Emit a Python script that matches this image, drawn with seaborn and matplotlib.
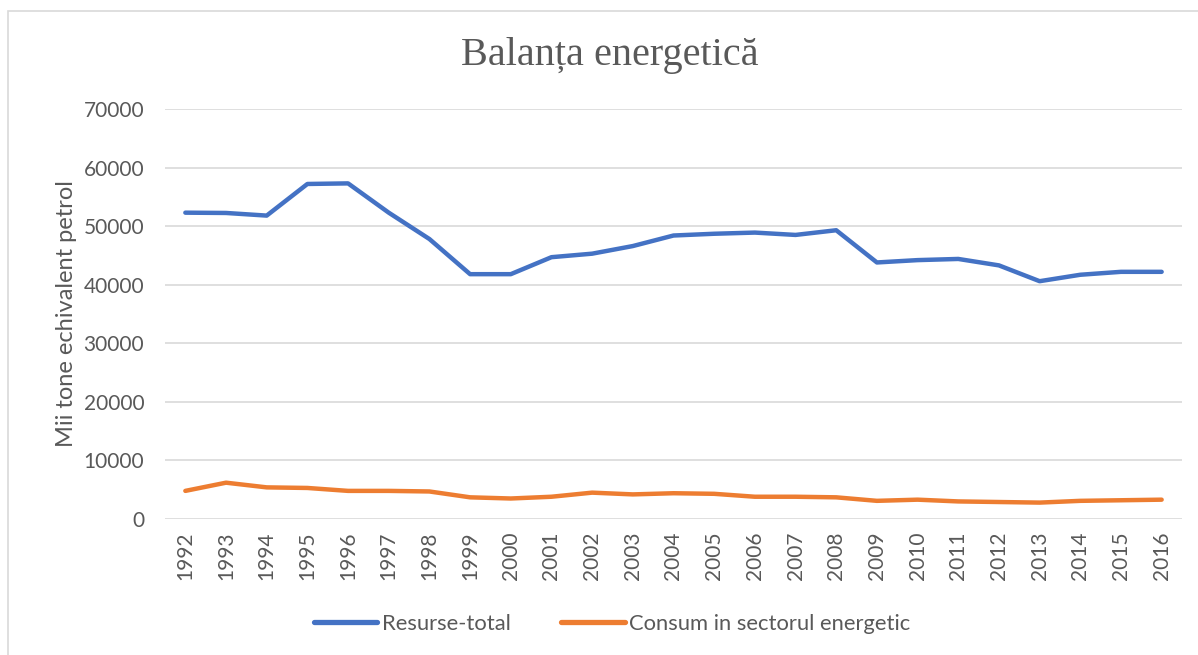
import numpy as np
import matplotlib.pyplot as plt
import pandas as pd
import seaborn as sns

ani = list(range(1992, 2017))
resurse_total = [52300, 52250, 51800, 57200, 57300, 52300, 47800, 41800, 41800, 44700,
                 45300, 46600, 48400, 48700, 48900, 48500, 49300, 43800, 44200, 44400,
                 43300, 40600, 41700, 42200, 42200]
consum_energetic = [4800, 6200, 5400, 5300, 4800, 4800, 4700, 3700, 3500, 3800,
                    4500, 4200, 4400, 4300, 3800, 3800, 3700, 3100, 3300, 3000,
                    2900, 2800, 3100, 3200, 3300]
serii = ['Resurse-total', 'Consum in sectorul energetic']
culori = ['#4472C4', '#ED7D31']

df = pd.DataFrame({
    'An': ani * 2,
    'Valoare': resurse_total + consum_energetic,
    'Serie': [serii[0]] * len(ani) + [serii[1]] * len(ani),
})

sns.set_theme(style='white')
plt.rcParams['font.family'] = ['Lato', 'DejaVu Sans']

fig = plt.figure(figsize=(11.98, 6.55), dpi=100)
ax = fig.add_axes([165 / 1198, 1 - 519 / 655, (1182 - 165) / 1198, (519 - 109) / 655])

sns.lineplot(data=df, x='An', y='Valoare', hue='Serie', palette=culori,
             linewidth=3.2, ax=ax, legend=False)
for l in ax.lines:
    l.set_solid_capstyle('round')
    l.set_solid_joinstyle('round')

ax.set_xlim(1991.5, 2016.5)
ax.set_ylim(0, 70000)
ax.set_yticks(range(0, 70001, 10000))
ax.set_xticks(ani)
ax.set_xticklabels([str(a) for a in ani], rotation=90)
ax.yaxis.grid(True, color='#D9D9D9', linewidth=1.2)
ax.set_axisbelow(True)
for s in ax.spines.values():
    s.set_visible(False)
ax.tick_params(axis='both', length=0, labelsize=15, colors='#595959')
ax.tick_params(axis='y', pad=15)
ax.tick_params(axis='x', pad=9)
ax.set_xlabel('')
ax.set_ylabel('Mii tone echivalent petrol', fontsize=17, color='#595959', labelpad=5)

fig.text(610 / 1198, 1 - 55 / 655, 'Balanța energetică', ha='center', va='center',
         fontsize=29, color='#595959', family=['Liberation Serif', 'DejaVu Serif'])

handles = [plt.Line2D([], [], color=c, linewidth=3.8, solid_capstyle='round') for c in culori]
fig.legend(handles, serii, loc='center', bbox_to_anchor=(612 / 1198, 1 - 624 / 655),
           ncol=2, frameon=False, fontsize=15.8, labelcolor='#595959',
           handlelength=2.9, handletextpad=0.2, columnspacing=2.3)

# chenarul graficului
fig.patches.append(plt.Rectangle((8 / 1198, -0.05), 1.1, 1 - 11 / 655 + 0.05, transform=fig.transFigure,
                                 fill=False, edgecolor='#D9D9D9', linewidth=1.2))

fig.savefig('out.png', dpi=100)
